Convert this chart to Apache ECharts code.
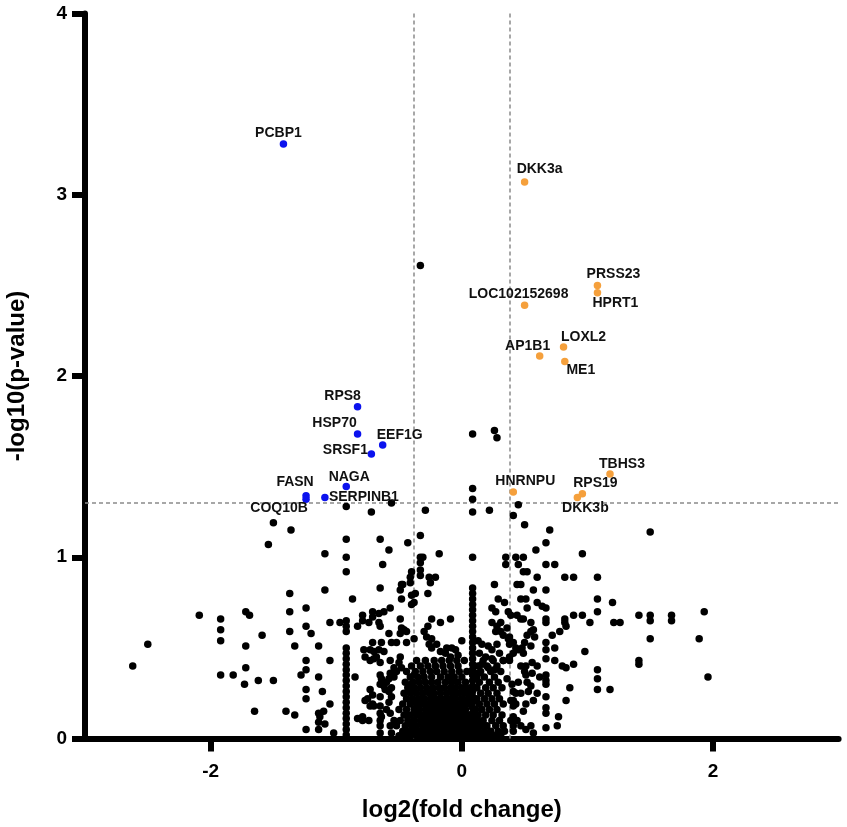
<!DOCTYPE html>
<html>
<head>
<meta charset="utf-8">
<title>Volcano plot</title>
<script src="https://cdn.jsdelivr.net/npm/echarts@6/dist/echarts.min.js"></script>
<style>
  html, body { margin: 0; padding: 0; background: #fff; }
  #chart { width: 847px; height: 827px; }
</style>
</head>
<body>
<div id="chart"></div>
<script>
// thresholds: fold change 1.3, p = 0.05
var foldCut = 0.3785;
var pCut = 1.301;

var xTicks = [-2, 0, 2];

// significant, down
var downNames = ['PCBP1', 'RPS8', 'HSP70', 'EEF1G', 'SRSF1', 'NAGA', 'FASN', 'SERPINB1', 'COQ10B'];
var downX = [-1.42, -0.83, -0.83, -0.63, -0.72, -0.92, -1.24, -1.09, -1.24];
var downY = [3.28, 1.83, 1.68, 1.62, 1.57, 1.39, 1.34, 1.33, 1.32];

// significant, up
var upNames = ['DKK3a', 'PRSS23', 'HPRT1', 'LOC102152698', 'LOXL2', 'AP1B1', 'ME1', 'TBHS3', 'HNRNPU', 'RPS19', 'DKK3b'];
var upX = [0.50, 1.08, 1.08, 0.50, 0.81, 0.62, 0.82, 1.18, 0.41, 0.96, 0.92];
var upY = [3.07, 2.50, 2.46, 2.39, 2.16, 2.11, 2.08, 1.46, 1.36, 1.35, 1.33];

// not significant
var nsLeft = [
  [-2.62,0.40],[-2.50,0.52],[-2.09,0.68],[-1.92,0.66],[-1.92,0.60],[-1.92,0.54],[-1.92,0.35],[-1.82,0.35],
  [-1.72,0.70],[-1.69,0.68],[-1.72,0.51],[-1.72,0.39],[-1.73,0.30],[-1.62,0.32],[-1.59,0.57],[-1.50,0.32],
  [-1.65,0.15],[-1.40,0.15],[-1.33,0.13],[-1.37,0.80],[-1.37,0.70],[-1.37,0.59],[-1.33,0.51],[-1.24,0.72],
  [-1.24,0.62],[-1.20,0.58],[-1.24,0.43],[-1.24,0.38],[-1.28,0.35],[-1.24,0.27],[-1.24,0.22],[-1.24,0.05],
  [-1.14,0.51],[-1.14,0.34],[-1.11,0.26],[-1.09,0.82],[-1.05,0.64],[-1.05,0.43],[-1.05,0.19],[-1.14,0.14],
  [-1.14,0.09],[-1.14,0.05],[-1.10,0.15],[-1.09,0.08],[-1.13,0.12],[-1.02,0.03],[-0.97,0.64],[-1.50,1.19],
  [-1.36,1.15],[-1.54,1.07],[-1.09,1.02]
];

var nsMidLeft = [
  [-0.87,0.77],[-0.85,0.34],[-0.83,0.62],[-0.79,0.68],[-0.79,0.65],[-0.83,0.11],[-0.79,0.12],[-0.79,0.10],
  [-0.74,0.10],[-0.72,1.25],[-0.65,1.10],[-0.58,1.04],[-0.63,0.96],[-0.65,0.83],[-0.56,1.30],[-0.43,1.08],
  [-0.47,0.85],[-0.48,0.85],[-0.49,0.82],[-0.41,0.86],[-0.41,0.89],[-0.40,0.92],[-0.40,0.79],[-0.40,0.74],
  [-0.38,0.75],[-0.48,0.77],[-0.57,0.72],[-0.62,0.70],[-0.66,0.69],[-0.71,0.70],[-0.71,0.67],[-0.74,0.64],
  [-0.66,0.64],[-0.65,0.62],[-0.49,0.66],[-0.48,0.61],[-0.46,0.60],[-0.49,0.58],[-0.44,0.59],[-0.58,0.58],
  [-0.38,0.55],[-0.71,0.53],[-0.64,0.53],[-0.56,0.53],[-0.52,0.53],[-0.44,0.53],[-0.78,0.49],[-0.73,0.49],
  [-0.70,0.48],[-0.66,0.49],[-0.62,0.48],[-0.77,0.45],[-0.73,0.43],[-0.70,0.44],[-0.68,0.45],[-0.65,0.42],
  [-0.49,0.45],[-0.50,0.42],[-0.57,0.43],[-0.48,0.39],[-0.54,0.39],[-0.52,0.37],[-0.57,0.36],[-0.54,0.34],
  [-0.58,0.33],[-0.65,0.35],[-0.64,0.33],[-0.65,0.30],[-0.62,0.29],[-0.60,0.31],[-0.61,0.27],[-0.58,0.26],
  [-0.56,0.28],[-0.65,0.23],[-0.73,0.27],[-0.71,0.24],[-0.75,0.22],[-0.77,0.21],[-0.71,0.19],[-0.73,0.18],
  [-0.70,0.18],[-0.65,0.18],[-0.56,0.23],[-0.58,0.20],[-0.60,0.16],[-0.65,0.14],[-0.64,0.12],[-0.65,0.10],
  [-0.65,0.07],[-0.65,0.03],[-0.57,0.14],[-0.54,0.10],[-0.57,0.07],[-0.56,0.03],[-0.38,0.35],[-0.40,0.30],
  [-0.41,0.26]
];

var nsMidCenter = [
  [-0.33,2.61],[-0.33,1.12],[-0.29,1.26],[-0.33,1.00],[-0.31,1.00],[-0.33,0.97],[-0.33,0.93],[-0.33,0.90],
  [-0.26,0.89],[-0.21,0.89],[-0.25,0.86],[-0.18,1.02],[-0.27,0.80],[-0.27,0.62],[-0.24,0.66],[-0.17,0.64],
  [-0.09,0.66],[-0.28,0.56],[-0.24,0.55],[-0.26,0.52],[-0.24,0.50],[-0.20,0.52],[-0.17,0.48],[-0.12,0.50],
  [-0.08,0.50],[-0.05,0.49],[-0.13,0.47],[-0.09,0.45],[-0.03,0.46],[0.00,0.54],[-0.37,0.80],[-0.30,0.59]
];

var nsRight = [
  [0.26,1.70],[0.28,1.66],[0.22,1.26],[0.45,1.29],[0.41,1.23],[0.50,1.18],[0.70,1.15],[1.50,1.14],
  [0.67,1.08],[0.59,1.04],[0.96,1.02],[0.35,1.00],[0.43,1.00],[0.49,1.00],[0.35,0.96],[0.45,0.96],
  [0.67,0.96],[0.74,0.96],[0.49,0.92],[0.52,0.92],[0.60,0.89],[0.82,0.89],[0.89,0.89],[1.08,0.89],
  [0.26,0.85],[0.44,0.85],[0.47,0.85],[0.57,0.82],[0.67,0.82],[0.29,0.77],[0.47,0.77],[0.51,0.77],
  [1.08,0.77],[0.34,0.75],[0.60,0.75],[0.64,0.73],[0.67,0.72],[0.52,0.72],[0.24,0.72],[0.27,0.70],
  [0.37,0.70],[1.08,0.70],[1.20,0.75],[0.39,0.68],[0.44,0.68],[0.47,0.66],[0.49,0.66],[0.67,0.66],
  [0.67,0.64],[0.82,0.66],[0.82,0.64],[0.89,0.68],[0.96,0.68],[1.02,0.64],[1.21,0.64],[1.26,0.64],
  [1.41,0.68],[1.50,0.68],[1.50,0.65],[1.67,0.68],[1.67,0.65],[1.93,0.70],[1.89,0.55],[1.50,0.55],
  [1.41,0.43],[1.41,0.41],[1.96,0.34],[0.24,0.64],[0.28,0.62],[0.31,0.64],[0.31,0.59],[0.27,0.59],
  [0.33,0.57],[0.36,0.61],[0.37,0.55],[0.41,0.53],[0.43,0.50],[0.45,0.49],[0.49,0.47],[0.48,0.50],
  [0.41,0.47],[0.38,0.56],[0.38,0.52],[0.55,0.64],[0.55,0.59],[0.58,0.56],[0.55,0.51],[0.57,0.60],
  [0.52,0.57],[0.50,0.53],[0.67,0.53],[0.67,0.49],[0.67,0.44],[0.72,0.57],[0.74,0.50],[0.74,0.43],
  [0.78,0.59],[0.83,0.62],[0.80,0.40],[0.83,0.39],[0.89,0.41],[0.98,0.48],[0.38,0.45],[0.38,0.43],
  [0.56,0.42],[0.56,0.36],[0.51,0.35],[0.52,0.31],[0.55,0.29],[0.53,0.26],[0.60,0.25],[0.57,0.21],
  [0.51,0.19],[0.47,0.25],[0.43,0.25],[0.49,0.15],[0.67,0.35],[0.67,0.32],[0.67,0.30],[0.67,0.23],
  [0.67,0.17],[0.67,0.14],[0.67,0.06],[0.86,0.28],[0.83,0.21],[0.77,0.12],[0.76,0.07],[1.08,0.38],
  [1.08,0.33],[1.08,0.27],[1.18,0.27],[0.41,0.26],[0.41,0.21],[0.41,0.18],[0.41,0.12],[0.41,0.07],
  [0.41,0.04],[0.39,0.10],[0.47,0.07],[0.55,0.07],[0.57,0.03],[0.43,0.19],[0.39,0.21],[0.47,0.40],
  [0.50,0.37],[0.51,0.40],[0.60,0.40],[0.62,0.34],[0.36,0.33],[0.40,0.30],[0.45,0.31],[0.44,0.10],
  [0.51,0.05],[0.13,0.54],[0.16,0.52],[0.21,0.51],[0.24,0.49],[0.14,0.47],[0.19,0.45],[0.24,0.44],
  [0.16,0.41],[0.21,0.39],[0.26,0.38],[0.13,0.36],[0.30,0.47],[0.33,0.43],[0.28,0.52]
];

// two stacked columns of points (x, list of y)
var colAX = -0.92;
var colAY = [0.02,0.05,0.08,0.11,0.14,0.17,0.20,0.23,0.26,0.29,0.32,0.35,0.38,0.41,0.44,0.47,0.50,0.59,0.62,0.65,0.92,1.00,1.10,1.28];
var colBX = 0.086;
var colBY = [0.02,0.05,0.08,0.11,0.14,0.17,0.20,0.23,0.26,0.29,0.32,0.35,0.38,0.41,0.44,0.47,0.50,0.53,0.56,0.59,0.62,0.65,0.68,0.71,0.74,0.77,0.80,0.83,1.00,1.25,1.32,1.38,1.68];

// dense core around zero, row by row (y, list of x)
var coreRows = [
  [0.015, [-0.50,-0.45,-0.41,-0.36,-0.32,-0.28,-0.24,-0.20,-0.16,-0.12,-0.08,-0.04,0.00,0.04,0.12,0.16,0.21,0.26,0.31]],
  [0.04,  [-0.47,-0.43,-0.38,-0.34,-0.30,-0.26,-0.22,-0.18,-0.14,-0.10,-0.06,-0.02,0.02,0.06,0.13,0.18,0.23,0.29,0.34]],
  [0.07,  [-0.52,-0.45,-0.40,-0.36,-0.31,-0.27,-0.23,-0.19,-0.15,-0.11,-0.07,-0.03,0.01,0.05,0.11,0.15,0.20,0.27,0.33]],
  [0.10,  [-0.49,-0.43,-0.38,-0.33,-0.29,-0.25,-0.21,-0.17,-0.13,-0.09,-0.05,-0.01,0.03,0.07,0.12,0.17,0.24,0.30]],
  [0.13,  [-0.46,-0.41,-0.36,-0.31,-0.27,-0.23,-0.19,-0.15,-0.11,-0.07,-0.03,0.01,0.05,0.13,0.19,0.25,0.32]],
  [0.16,  [-0.50,-0.44,-0.38,-0.34,-0.29,-0.25,-0.21,-0.17,-0.13,-0.09,-0.05,-0.01,0.03,0.11,0.16,0.22,0.28]],
  [0.19,  [-0.47,-0.41,-0.36,-0.32,-0.27,-0.23,-0.19,-0.15,-0.11,-0.07,-0.03,0.02,0.06,0.14,0.20,0.26,0.33]],
  [0.22,  [-0.44,-0.39,-0.34,-0.30,-0.25,-0.21,-0.17,-0.13,-0.09,-0.05,0.00,0.05,0.12,0.18,0.24,0.30]],
  [0.25,  [-0.46,-0.41,-0.36,-0.31,-0.26,-0.22,-0.17,-0.12,-0.07,-0.03,0.02,0.06,0.15,0.21,0.28]],
  [0.28,  [-0.43,-0.38,-0.33,-0.28,-0.23,-0.18,-0.14,-0.09,-0.05,0.00,0.04,0.12,0.19,0.25,0.32]],
  [0.31,  [-0.45,-0.39,-0.34,-0.29,-0.24,-0.19,-0.13,-0.08,-0.03,0.03,0.14,0.22,0.29]],
  [0.34,  [-0.41,-0.35,-0.30,-0.24,-0.17,-0.11,-0.06,0.00,0.12,0.18,0.26]],
  [0.37,  [-0.44,-0.37,-0.31,-0.25,-0.20,-0.14,-0.08,-0.02,0.04,0.15,0.23,0.31]],
  [0.40,  [-0.40,-0.33,-0.27,-0.21,-0.15,-0.09,-0.03,0.13,0.20,0.28]],
  [0.43,  [-0.36,-0.29,-0.22,-0.16,-0.10,-0.04,0.02,0.17,0.25,0.33]]
];

// label nudges in px (dx, dy) from the dot
var labelNudge = {
  PCBP1: [-5, -11], RPS8: [-15, -11], HSP70: [-23, -11], EEF1G: [17, -10], SRSF1: [-26, -4],
  NAGA: [3, -9], FASN: [-11, -13], SERPINB1: [39, 0], COQ10B: [-27, 9],
  DKK3a: [15, -13], PRSS23: [16, -11], HPRT1: [18, 11], LOC102152698: [-6, -11], LOXL2: [20, -10],
  AP1B1: [-12, -10], ME1: [16, 9], TBHS3: [12, -10], HNRNPU: [12, -11], RPS19: [13, -11], DKK3b: [8, 11]
};

var FONT = '"Liberation Sans", Arial, Helvetica, sans-serif';

var nsData = [].concat(nsLeft, nsMidLeft, nsMidCenter, nsRight);
colAY.forEach(function (y) { nsData.push([colAX, y]); });
colBY.forEach(function (y) { nsData.push([colBX, y]); });
coreRows.forEach(function (row) {
  row[1].forEach(function (x) { nsData.push([x, row[0]]); });
});

function labelled(names, xs, ys) {
  return names.map(function (n, i) {
    return { name: n, value: [xs[i], ys[i]], label: { offset: labelNudge[n] } };
  });
}

var geneLabel = {
  show: true,
  position: 'inside',
  formatter: '{b}',
  color: '#111',
  fontFamily: FONT,
  fontWeight: 'bold',
  fontSize: 14
};

var myChart = echarts.init(document.getElementById('chart'), null, { renderer: 'canvas' });

var option = {
  backgroundColor: '#fff',
  animation: false,
  grid: { left: 85, right: 8.4, top: 13.5, bottom: 88.5, containLabel: false, outerBoundsMode: 'none' },
  xAxis: {
    type: 'value',
    min: -3,
    max: 3,
    name: 'log2(fold change)',
    nameLocation: 'middle',
    nameGap: 60,
    nameTextStyle: { color: '#000', fontFamily: FONT, fontWeight: 'bold', fontSize: 24 },
    axisLine: { show: true, onZero: false, lineStyle: { color: '#000', width: 6 } },
    axisTick: { show: true, customValues: xTicks, length: 13, lineStyle: { color: '#000', width: 6 } },
    axisLabel: { customValues: xTicks, color: '#000', fontFamily: FONT, fontWeight: 'bold', fontSize: 19, margin: 24 },
    splitLine: { show: false }
  },
  yAxis: {
    type: 'value',
    min: 0,
    max: 4,
    interval: 1,
    name: '-log10(p-value)',
    nameLocation: 'middle',
    nameGap: 56,
    nameTextStyle: { color: '#000', fontFamily: FONT, fontWeight: 'bold', fontSize: 24 },
    axisLine: { show: true, onZero: false, lineStyle: { color: '#000', width: 6 } },
    axisTick: { show: true, length: 13, lineStyle: { color: '#000', width: 6 } },
    axisLabel: { color: '#000', fontFamily: FONT, fontWeight: 'bold', fontSize: 19, margin: 18 },
    splitLine: { show: false }
  },
  series: [
    {
      name: 'cutoffs',
      type: 'scatter',
      data: [],
      z: 1,
      markLine: {
        z: 1,
        silent: true,
        symbol: ['none', 'none'],
        label: { show: false },
        lineStyle: { color: '#8a8a8a', width: 1.5, type: [4, 3] },
        data: [{ xAxis: -foldCut }, { xAxis: foldCut }, { yAxis: pCut }]
      }
    },
    {
      name: 'ns',
      type: 'scatter',
      z: 2,
      symbolSize: 7.5,
      itemStyle: { color: '#000', opacity: 1 },
      data: nsData
    },
    {
      name: 'down',
      type: 'scatter',
      z: 3,
      symbolSize: 7.5,
      itemStyle: { color: '#0b12ee', opacity: 1 },
      label: geneLabel,
      data: labelled(downNames, downX, downY)
    },
    {
      name: 'up',
      type: 'scatter',
      z: 3,
      symbolSize: 7.5,
      itemStyle: { color: '#f5a03c', opacity: 1 },
      label: geneLabel,
      data: labelled(upNames, upX, upY)
    }
  ]
};
myChart.setOption(option);
</script>
</body>
</html>
